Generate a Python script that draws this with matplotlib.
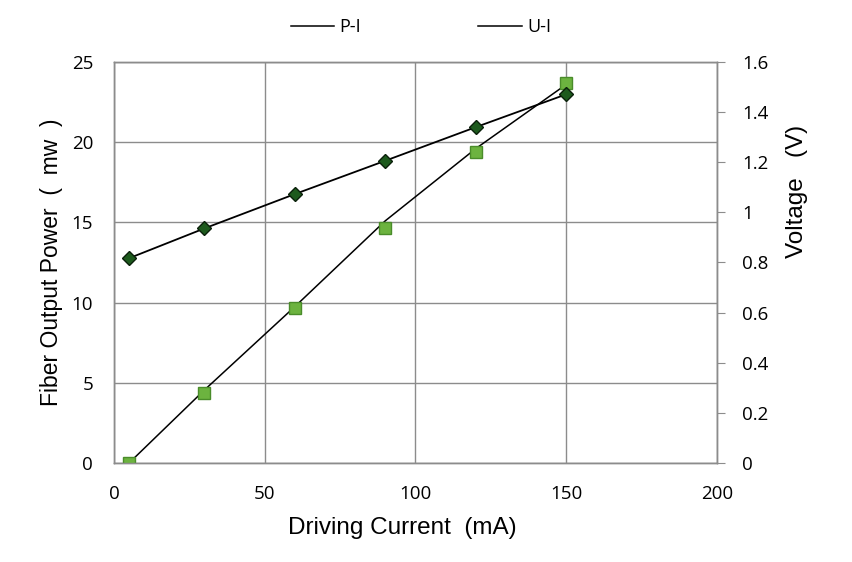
import matplotlib
matplotlib.use("Agg")
import matplotlib.pyplot as plt
from matplotlib.lines import Line2D
from matplotlib import rcParams
rcParams['font.family'] = ['Open Sans', 'DejaVu Sans']

# data
current = [5, 30, 60, 90, 120, 150]                      # mA
power = [0.0, 4.36, 9.64, 14.63, 19.37, 23.67]           # mW (squares)
power_trend = [0.0, 4.55, 9.75, 15.1, 19.6, 23.6]         # drawn P-I line
voltage = [0.817, 0.936, 1.073, 1.206, 1.34, 1.471]       # V (diamonds)

x_ticks = [0, 50, 100, 150, 200]
p_ticks = [0, 5, 10, 15, 20, 25]
v_ticks = [0, 0.2, 0.4, 0.6, 0.8, 1, 1.2, 1.4, 1.6]
v_labels = ['0', '0.2', '0.4', '0.6', '0.8', '1', '1.2', '1.4', '1.6']

tick_size = 13.5
label_size = 17.5
grid_col = '#8c8c8c'

fig = plt.figure(figsize=(8.52, 5.62), dpi=100)
ax = fig.add_axes([0.1338, 0.1762, 0.7077, 0.7135])
ax2 = ax.twinx()

ax.plot(current, power_trend, color='black', lw=1.1, zorder=3)
ax.plot(current, power, ls='none', marker='s', ms=9, mfc='#6cb33f',
        mec='#4a8c2a', mew=1, zorder=4)

ax2.plot(current, voltage, color='black', lw=1.3, marker='D', ms=7.5,
         mfc='#1d5a1d', mec='#0a200a', mew=1, zorder=4)

ax.set_xlim(0, 200)
ax.set_ylim(0, 25)
ax2.set_ylim(0, 1.6)
ax.set_xticks(x_ticks)
ax.set_yticks(p_ticks)
ax2.set_yticks(v_ticks)
ax2.set_yticklabels(v_labels)

ax.grid(True, color=grid_col, lw=1)
ax.set_axisbelow(True)
for a in (ax, ax2):
    for s in a.spines.values():
        s.set_color(grid_col)
        s.set_linewidth(1)

ax.tick_params(axis='x', length=0, labelsize=tick_size, pad=16)
ax.tick_params(axis='y', length=0, labelsize=tick_size, pad=15)
ax2.tick_params(axis='y', length=6, color=grid_col, labelsize=tick_size, pad=12)

ax.set_xlabel('Driving Current  (mA)', fontsize=label_size,
              family='Liberation Sans')
ax.xaxis.set_label_coords(0.478, -0.134)
ax.set_ylabel('Fiber Output Power  (  mw  )', fontsize=16.5,
              family='Liberation Sans', labelpad=6)
ax2.set_ylabel('Voltage   (V)', fontsize=label_size,
               family='Liberation Sans')
ax2.yaxis.set_label_coords(1.115, 0.676)

handles = [Line2D([], [], color='black', lw=1.1),
           Line2D([], [], color='black', lw=1.1)]
fig.legend(handles, ['P-I', 'U-I'], loc='upper center', ncol=2, frameon=False,
           bbox_to_anchor=(0.494, 0.997), fontsize=13, columnspacing=6.5,
           handlelength=2.4, handletextpad=0.3)

fig.savefig('out.png', dpi=100)
